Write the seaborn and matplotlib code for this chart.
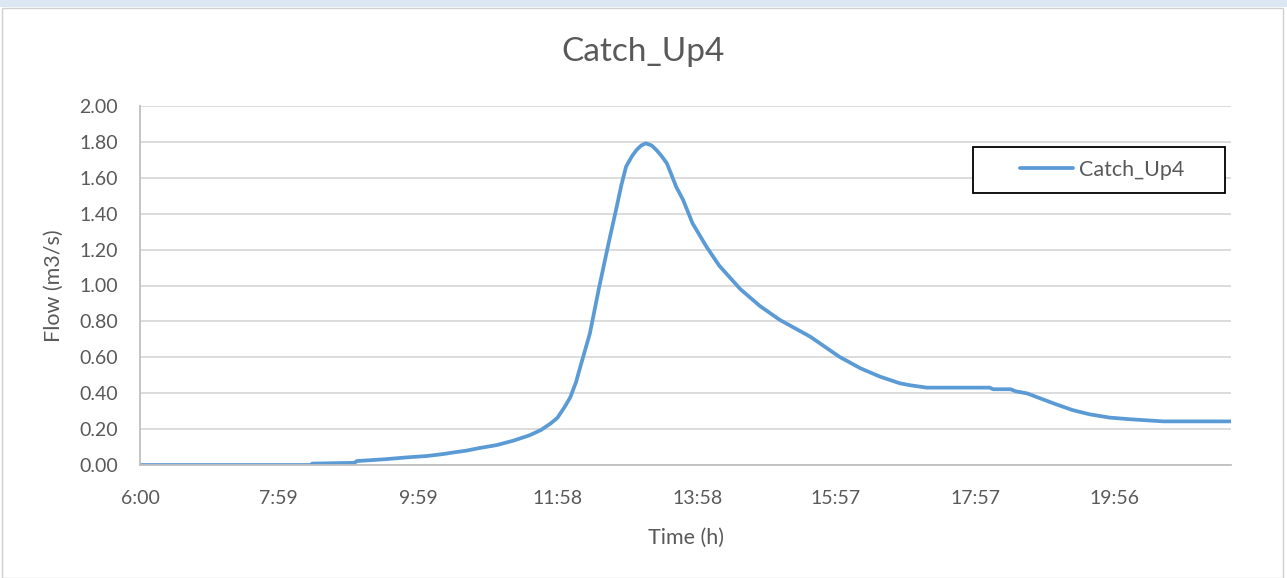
import matplotlib
matplotlib.use("Agg")
import matplotlib.pyplot as plt
from matplotlib.patches import Rectangle
import seaborn as sns
import pandas as pd

# ---- data (minutes after 6:00, flow in m3/s) ----
minutes = [0, 146, 148, 184, 186, 210, 230, 246, 260, 270, 280, 290, 306, 320,
           334, 344, 352, 358, 364, 369, 374, 377, 386, 394, 402, 409, 413, 417,
           422, 426, 430, 434, 439, 443, 447, 452, 456, 460, 466, 474, 486, 497,
           515, 532, 549, 575, 600, 618, 635, 652, 661, 675, 729, 732, 747, 751,
           761, 772, 786, 800, 815, 832, 849, 878, 936]
flow = [0.0, 0.0, 0.008, 0.012, 0.022, 0.032, 0.043, 0.050, 0.061, 0.071, 0.080,
        0.093, 0.111, 0.135, 0.165, 0.195, 0.230, 0.262, 0.320, 0.375, 0.460,
        0.530, 0.734, 0.993, 1.235, 1.439, 1.560, 1.662, 1.720, 1.755, 1.780,
        1.792, 1.780, 1.755, 1.725, 1.681, 1.616, 1.550, 1.476, 1.347, 1.216,
        1.110, 0.980, 0.885, 0.808, 0.715, 0.603, 0.539, 0.492, 0.455, 0.444,
        0.431, 0.431, 0.422, 0.422, 0.411, 0.399, 0.372, 0.338, 0.306, 0.282,
        0.264, 0.255, 0.243, 0.243]
series_name = "Catch_Up4"
x_tick_minutes = [0, 119, 239, 358, 478, 597, 717, 836]
x_tick_labels = ["6:00", "7:59", "9:59", "11:58", "13:58", "15:57", "17:57", "19:56"]
y_ticks = [0.0, 0.2, 0.4, 0.6, 0.8, 1.0, 1.2, 1.4, 1.6, 1.8, 2.0]

df = pd.DataFrame({"Time": minutes, "Flow": flow, "Series": series_name})

sns.set_theme(style="white")
plt.rcParams["font.family"] = ["Lato", "DejaVu Sans"]
text_color = "#595959"

fig = plt.figure(figsize=(12.87, 5.78), dpi=100)
ax = fig.add_axes([140 / 1287, 1 - 465 / 578, (1231 - 140) / 1287, (465 - 106) / 578])

sns.lineplot(data=df, x="Time", y="Flow", hue="Series", palette=["#5b9bd5"],
             linewidth=2.7, ax=ax, legend=False)

ax.set_xlim(0, 936)
ax.set_ylim(0, 2.0)
ax.set_xticks(x_tick_minutes)
ax.set_xticklabels(x_tick_labels)
ax.set_yticks(y_ticks)
ax.set_yticklabels([f"{v:.2f}" for v in y_ticks])
ax.tick_params(axis="both", length=0, labelsize=14, colors=text_color)
ax.tick_params(axis="y", pad=16)
ax.tick_params(axis="x", pad=18)
ax.grid(axis="y", color="#d9d9d9", linewidth=1.3)
ax.set_axisbelow(True)
for s in ["top", "right"]:
    ax.spines[s].set_visible(False)
for s in ["left", "bottom"]:
    ax.spines[s].set_color("#bfbfbf")
    ax.spines[s].set_linewidth(1.3)

ax.set_xlabel("Time (h)", fontsize=15.5, color=text_color, labelpad=15)
ax.set_ylabel("Flow (m3/s)", fontsize=15.5, color=text_color, labelpad=11)
fig.text(0.5, 1 - 52 / 578, "Catch_Up4", ha="center", va="center",
         fontsize=24, color=text_color)

# legend
line = ax.get_lines()[0]
leg = ax.legend([line], [series_name], loc="center left",
                bbox_to_anchor=((1020 - 140) / 1091, (465 - 170) / 359),
                frameon=False, borderpad=0, borderaxespad=0, handlelength=2.45,
                handletextpad=0.3, fontsize=15.5, labelcolor=text_color)
ax.add_patch(Rectangle(((973 - 140) / 1091, (465 - 193) / 359), 252 / 1091, 46 / 359,
                       transform=ax.transAxes, fill=True, facecolor="white",
                       edgecolor="black", linewidth=1.3, zorder=4, clip_on=False))
leg.set_zorder(5)

# chart frame decoration
fig.patches.append(Rectangle((0, 1 - 7 / 578), 1, 7 / 578, transform=fig.transFigure,
                             facecolor="#dbe8f3", edgecolor="none", zorder=0))
fig.patches.append(Rectangle((2 / 1287, 0), 1281 / 1287, 1 - 8 / 578,
                             transform=fig.transFigure, facecolor="none",
                             edgecolor="#d0d0d0", linewidth=1.0, zorder=0))

fig.savefig("out.png", dpi=100)
